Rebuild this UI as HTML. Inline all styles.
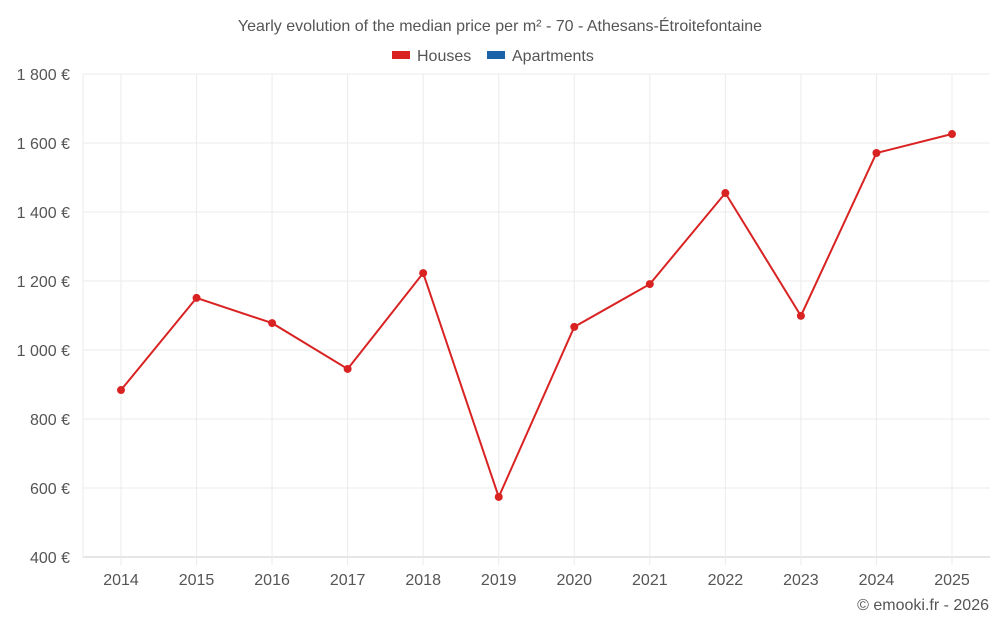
<!DOCTYPE html>
<html><head><meta charset="utf-8"><style>
body{margin:0;background:#fff;font-family:"Liberation Sans",sans-serif;}
svg text{font-family:"Liberation Sans",sans-serif;}
</style></head><body>
<svg id="chart" width="1000" height="625">
<text x="500" y="31" text-anchor="middle" font-size="16" fill="#555">Yearly evolution of the median price per m² - 70 - Athesans-Étroitefontaine</text>
<g>
<g><rect x="392" y="51" width="18" height="8" fill="#d92323"/><text x="417" y="61" font-size="16" fill="#555">Houses</text></g>
<g><rect x="487" y="51" width="18" height="8" fill="#1a63a8"/><text x="512" y="61" font-size="16" fill="#555">Apartments</text></g>
</g>
<g id="grid"></g><g id="axes"></g><g id="series"></g>
<text x="989" y="610" text-anchor="end" font-size="16" fill="#555">© emooki.fr - 2026</text>
</svg>
<script>
const years=[2014,2015,2016,2017,2018,2019,2020,2021,2022,2023,2024,2025];
const houses=[884,1151,1078,945,1223,574,1067,1191,1455,1099,1571,1626];
const yTicks=[400,600,800,1000,1200,1400,1600,1800];
const yLabels=["400 €","600 €","800 €","1 000 €","1 200 €","1 400 €","1 600 €","1 800 €"];
const L=83,R=990,T=74,B=557,yMin=400,yMax=1800;
const ns="http://www.w3.org/2000/svg";
const xs=i=>121+i*(952-121)/(years.length-1);
const ys=v=>B-(v-yMin)/(yMax-yMin)*(B-T);
function mk(t,a,p){const e=document.createElementNS(ns,t);for(const k in a)e.setAttribute(k,a[k]);p.appendChild(e);return e;}
const g=document.getElementById('grid'),ax=document.getElementById('axes'),s=document.getElementById('series');
yTicks.forEach((v,i)=>{
 const l=mk('line',{x1:L,x2:R,y1:ys(v),y2:ys(v),stroke:i==0?'#ccc':'#ebebeb'},g);
 
 
 const t=mk('text',{x:70,y:ys(v)+6,'text-anchor':'end','font-size':16,fill:'#555'},ax);t.textContent=yLabels[i];
 
 
});
years.forEach((y,i)=>{
 const l=mk('line',{x1:xs(i),x2:xs(i),y1:T,y2:B+8,stroke:'#ebebeb'},g);
 
 
 const t=mk('text',{x:xs(i),y:585,'text-anchor':'middle','font-size':16,fill:'#555'},ax);t.textContent=y;
 
 
});
const vl=mk('line',{x1:L,x2:L,y1:T,y2:B,stroke:'#ebebeb'},g);


const pl=mk('polyline',{points:houses.map((v,i)=>xs(i)+','+ys(v)).join(' '),fill:'none',stroke:'#d92323','stroke-width':2},s);


houses.forEach((v,i)=>{
 const c=mk('circle',{cx:xs(i),cy:ys(v),r:4,fill:'#d92323'},s);
 
 
});
</script>
</body></html>
